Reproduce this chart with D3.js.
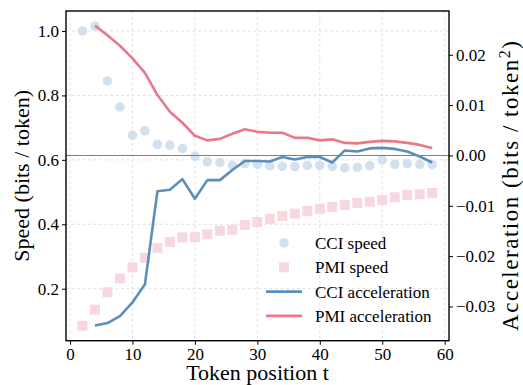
<!DOCTYPE html>
<html>
<head>
<meta charset="utf-8">
<script src="https://cdn.jsdelivr.net/npm/d3@7"></script>
<style>
  body { margin: 0; background: #fff; }
  svg text { font-family: "Liberation Serif", "Times New Roman", Times, serif; fill: #000; }
</style>
</head>
<body>
<div id="chart"></div>
<script>
// token positions
const tokens = d3.range(2, 59, 2);
const accTokens = d3.range(4, 59, 2);

// speeds (left axis)
const cciSpeed = [1.0, 1.015, 0.845, 0.764, 0.676, 0.69, 0.648, 0.646, 0.635, 0.611,
  0.594, 0.592, 0.583, 0.588, 0.586, 0.581, 0.58, 0.579, 0.582, 0.583,
  0.58, 0.575, 0.577, 0.582, 0.60, 0.586, 0.588, 0.586, 0.586];
const pmiSpeed = [0.085, 0.135, 0.189, 0.232, 0.266, 0.296, 0.326, 0.345, 0.359, 0.36,
  0.369, 0.38, 0.383, 0.398, 0.407, 0.417, 0.426, 0.433, 0.441, 0.448,
  0.454, 0.46, 0.466, 0.47, 0.475, 0.484, 0.491, 0.493, 0.497];

// accelerations (right axis)
const cciAcc = [-0.0338, -0.0333, -0.0319, -0.0292, -0.0256, -0.0071, -0.0068, -0.0047,
  -0.0086, -0.0049, -0.0049, -0.0029, -0.0011, -0.0011, -0.0012, -0.0003, -0.0008,
  -0.0003, -0.0003, -0.0014, 0.001, 0.0008, 0.0014, 0.0015, 0.0013, 0.0008, -0.0002, -0.0014];
const pmiAcc = [0.0258, 0.0239, 0.0218, 0.0193, 0.0164, 0.012, 0.0087, 0.0065, 0.0039,
  0.003, 0.0033, 0.0043, 0.0052, 0.0047, 0.0045, 0.0045, 0.0035, 0.0035, 0.003,
  0.0032, 0.0025, 0.0024, 0.0027, 0.0029, 0.0028, 0.0025, 0.0021, 0.0015];

const xTicks = [0, 10, 20, 30, 40, 50, 60];
const speedTicks = [0.2, 0.4, 0.6, 0.8, 1.0];
const accTicks = [-0.03, -0.02, -0.01, 0.0, 0.01, 0.02];

const width = 523, height = 385;
const margin = {top: 11, right: 74, bottom: 44.3, left: 66};
const blue = "#5a8fbd", pink = "#e8788a";
const serif = "'Liberation Serif', 'Times New Roman', Times, serif";

const x = d3.scaleLinear().domain([-0.64, 60.69]).range([margin.left, width - margin.right]);
const y = d3.scaleLinear().domain([0.0386, 1.0621]).range([height - margin.bottom, margin.top]);
const y2 = d3.scaleLinear().domain([-0.0368, 0.0287]).range([height - margin.bottom, margin.top]);

const svg = d3.select("#chart").append("svg")
  .attr("width", width).attr("height", height)
  .attr("font-family", serif);

// grid
const grid = svg.append("g").attr("stroke", "#d9d9d9").attr("stroke-width", 0.8)
  .attr("stroke-dasharray", "3,2.5");
grid.selectAll(".gx").data(xTicks).join("line")
  .attr("x1", d => x(d)).attr("x2", d => x(d))
  .attr("y1", margin.top).attr("y2", height - margin.bottom);
grid.selectAll(".gy").data(speedTicks).join("line")
  .attr("y1", d => y(d)).attr("y2", d => y(d))
  .attr("x1", margin.left).attr("x2", width - margin.right);

// speed markers
svg.append("g").selectAll("circle").data(tokens).join("circle")
  .attr("cx", d => x(d)).attr("cy", (d, i) => y(cciSpeed[i]))
  .attr("r", 4.8).attr("fill", "#d2e1ed");
svg.append("g").selectAll("rect").data(tokens).join("rect")
  .attr("x", d => x(d) - 5).attr("y", (d, i) => y(pmiSpeed[i]) - 5)
  .attr("width", 10).attr("height", 10).attr("fill", "#f8d8df");

// zero line
svg.append("line")
  .attr("x1", margin.left).attr("x2", width - margin.right)
  .attr("y1", 155.5).attr("y2", 155.5)
  .attr("stroke", "#3f8fd6").attr("stroke-width", 1);

// acceleration lines
const line = d3.line().x(d => x(d[0])).y(d => y2(d[1]));
svg.append("path").datum(accTokens.map((t, i) => [t, cciAcc[i]]))
  .attr("d", line).attr("fill", "none").attr("stroke", blue).attr("stroke-width", 2.6)
  .attr("stroke-linejoin", "round");
svg.append("path").datum(accTokens.map((t, i) => [t, pmiAcc[i]]))
  .attr("d", line).attr("fill", "none").attr("stroke", pink).attr("stroke-width", 2.6)
  .attr("stroke-linejoin", "round");

// axes
const xAxis = svg.append("g").attr("transform", `translate(0,${height - margin.bottom})`)
  .call(d3.axisBottom(x).tickValues(xTicks).tickSize(4).tickPadding(3).tickFormat(d3.format("d")));
const yAxis = svg.append("g").attr("transform", `translate(${margin.left},0)`)
  .call(d3.axisLeft(y).tickValues(speedTicks).tickSize(4).tickPadding(3).tickFormat(d3.format(".1f")));
const y2Axis = svg.append("g").attr("transform", `translate(${width - margin.right},0)`)
  .call(d3.axisRight(y2).tickValues(accTicks).tickSize(4).tickPadding(3).tickFormat(d3.format(".2f")));
[xAxis, yAxis, y2Axis].forEach(a => {
  a.attr("font-family", serif).attr("font-size", 17);
  a.select(".domain").remove();
  a.selectAll("line").attr("stroke", "#000").attr("stroke-width", 1);
});

// frame
svg.append("rect")
  .attr("x", margin.left).attr("y", margin.top)
  .attr("width", width - margin.left - margin.right)
  .attr("height", height - margin.top - margin.bottom)
  .attr("fill", "none").attr("stroke", "#000").attr("stroke-width", 1.4);

// axis labels
svg.append("text")
  .attr("x", (margin.left + width - margin.right) / 2).attr("y", 380)
  .attr("text-anchor", "middle").attr("font-size", 22)
  .text("Token position t");
svg.append("text")
  .attr("transform", `translate(29,${(margin.top + height - margin.bottom) / 2}) rotate(-90)`)
  .attr("text-anchor", "middle").attr("font-size", 22)
  .text("Speed (bits / token)");
const rl = svg.append("text")
  .attr("transform", "translate(518,186) rotate(-90)")
  .attr("text-anchor", "middle").attr("font-size", 23)
  .attr("textLength", 290).attr("lengthAdjust", "spacing");
rl.append("tspan").text("Acceleration (bits / token");
rl.append("tspan").attr("dy", -8).attr("font-size", 16).text("2");
rl.append("tspan").attr("dy", 8).text(")");

// legend
const legendItems = [
  {label: "CCI speed", type: "circle", color: "#d2e1ed"},
  {label: "PMI speed", type: "square", color: "#f8d8df"},
  {label: "CCI acceleration", type: "line", color: blue},
  {label: "PMI acceleration", type: "line", color: pink}
];
const lg = svg.append("g").attr("transform", "translate(266,243)");
const item = lg.selectAll("g").data(legendItems).join("g")
  .attr("transform", (d, i) => `translate(0,${i * 24.3})`);
item.filter(d => d.type === "circle").append("circle")
  .attr("cx", 18).attr("cy", 0).attr("r", 4.8).attr("fill", d => d.color);
item.filter(d => d.type === "square").append("rect")
  .attr("x", 13).attr("y", -5).attr("width", 10).attr("height", 10).attr("fill", d => d.color);
item.filter(d => d.type === "line").append("line")
  .attr("x1", 0).attr("x2", 36).attr("y1", 0).attr("y2", 0)
  .attr("stroke", d => d.color).attr("stroke-width", 2.6);
item.append("text").attr("x", 49).attr("y", 6).attr("font-size", 17)
  .text(d => d.label);
</script>
</body>
</html>
